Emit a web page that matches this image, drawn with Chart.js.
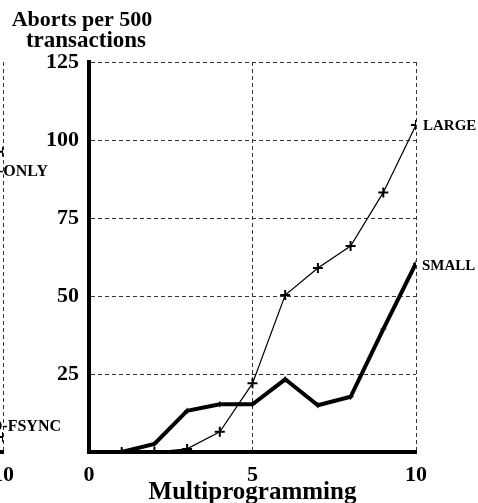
<!DOCTYPE html>
<html>
<head>
<meta charset="utf-8">
<script src="https://cdn.jsdelivr.net/npm/chart.js@4/dist/chart.umd.min.js"></script>
<style>
  html, body { margin: 0; padding: 0; background: #fff; overflow: hidden; }
  #wrap { position: relative; width: 478px; height: 503px; overflow: hidden; }
  canvas { position: absolute; top: 0; }
  #main { left: 0; }
  #prev { left: -413px; }
</style>
</head>
<body>
<div id="wrap">
  <canvas id="prev" width="478" height="503"></canvas>
  <canvas id="main" width="478" height="503"></canvas>
</div>
<script>
// multiprogramming levels
var mpl = [1, 2, 3, 4, 5, 6, 7, 8, 9, 10];
// aborts per 500 transactions
var largeAborts = [0, 0, 1, 6.5, 22, 50.3, 59, 66, 83.2, 104.8];
var smallAborts = [0, 2.6, 13.2, 15.3, 15.3, 23.3, 15, 17.7, 39.4, 60.5];
// neighbouring panel, only its right edge is in view
var readOnlyAborts = [null, null, null, null, null, null, null, null, null, 96.2];
var noFsyncAborts = [null, null, null, null, null, null, null, null, null, 4.8];

var xTicks = [0, 5, 10];
var yTicks = [0, 25, 50, 75, 100, 125];

var serif = '"Liberation Serif", "Times New Roman", serif';

function pts(ys) {
  return mpl.map(function (x, i) { return { x: x, y: ys[i] }; });
}

var endLabels = {
  id: 'endLabels',
  afterDatasetsDraw: function (chart) {
    var ctx = chart.ctx;
    chart.data.datasets.forEach(function (ds, i) {
      if (!ds.endLabel) return;
      var meta = chart.getDatasetMeta(i);
      var p = meta.data[meta.data.length - 1];
      ctx.save();
      ctx.font = 'bold ' + (ds.endLabel.size || 15) + 'px ' + serif;
      ctx.fillStyle = '#000';
      ctx.textBaseline = 'middle';
      ctx.textAlign = ds.endLabel.align || 'left';
      ctx.fillText(ds.endLabel.text, p.x + ds.endLabel.dx, p.y + ds.endLabel.dy);
      ctx.restore();
    });
  }
};

var axisTitles = {
  id: 'axisTitles',
  afterDraw: function (chart) {
    if (!chart.options.plugins.axisTitles.show) return;
    var ctx = chart.ctx;
    ctx.save();
    ctx.fillStyle = '#000';
    ctx.textAlign = 'center';
    ctx.textBaseline = 'alphabetic';
    ctx.font = 'bold 22px ' + serif;
    ctx.fillText('Aborts per 500', 82, 26);
    ctx.font = 'bold 23px ' + serif;
    ctx.fillText('transactions', 86, 47);
    ctx.font = 'bold 25px ' + serif;
    ctx.fillText('Multiprogramming', (chart.chartArea.left + chart.chartArea.right) / 2, 499);
    ctx.restore();
  }
};

function makeOptions(showTitles) {
  return {
    responsive: false,
    animation: false,
    layout: { padding: { top: 62, right: 62, left: 0, bottom: 0 } },
    plugins: {
      legend: { display: false },
      tooltip: { enabled: false },
      axisTitles: { show: showTitles }
    },
    scales: {
      x: {
        type: 'linear',
        min: 0,
        max: 10,
        afterBuildTicks: function (s) { s.ticks = xTicks.map(function (v) { return { value: v }; }); },
        afterFit: function (s) { s.height = 51; },
        ticks: { color: '#000', font: { family: serif, size: 22, weight: 'bold' }, padding: 10, maxRotation: 0 },
        grid: { color: '#333', lineWidth: 1, drawTicks: false },
        border: { display: true, color: '#000', width: 4, dash: [4, 3] }
      },
      y: {
        type: 'linear',
        min: 0,
        max: 125,
        afterBuildTicks: function (s) { s.ticks = yTicks.map(function (v) { return { value: v }; }); },
        afterFit: function (s) { s.width = 89; },
        ticks: {
          color: '#000', font: { family: serif, size: 22, weight: 'bold' }, padding: 10,
          callback: function (v) { return v === 0 ? '' : v; }
        },
        grid: { display: showTitles, color: '#333', lineWidth: 1, drawTicks: false },
        border: { display: true, color: '#000', width: 4, dash: [4, 3] }
      }
    }
  };
}

new Chart(document.getElementById('prev').getContext('2d'), {
  type: 'line',
  data: {
    datasets: [
      {
        label: 'READ-ONLY', data: pts(readOnlyAborts), borderColor: '#000', borderWidth: 1,
        pointStyle: 'cross', pointRadius: 5, pointBorderWidth: 2, pointBorderColor: '#000',
        endLabel: { text: 'READ-ONLY', dx: 45, dy: 20, align: 'right', size: 16 }
      },
      {
        label: 'NO-FSYNC', data: pts(noFsyncAborts), borderColor: '#000', borderWidth: 1,
        pointStyle: 'cross', pointRadius: 5, pointBorderWidth: 2, pointBorderColor: '#000',
        endLabel: { text: 'NO-FSYNC', dx: 58, dy: -10, align: 'right', size: 16 }
      }
    ]
  },
  options: makeOptions(false),
  plugins: [endLabels, axisTitles]
});

new Chart(document.getElementById('main').getContext('2d'), {
  type: 'line',
  data: {
    datasets: [
      {
        label: 'LARGE', data: pts(largeAborts), borderColor: '#000', borderWidth: 1.2,
        pointStyle: 'cross', pointRadius: 5, pointBorderWidth: 2, pointBorderColor: '#000',
        tension: 0, endLabel: { text: 'LARGE', dx: 7, dy: 1 }
      },
      {
        label: 'SMALL', data: pts(smallAborts), borderColor: '#000', borderWidth: 4,
        pointStyle: 'cross', pointRadius: 3, pointBorderWidth: 1, pointBorderColor: '#000',
        tension: 0, endLabel: { text: 'SMALL', dx: 6, dy: 3 }
      }
    ]
  },
  options: makeOptions(true),
  plugins: [endLabels, axisTitles]
});
</script>
</body>
</html>
